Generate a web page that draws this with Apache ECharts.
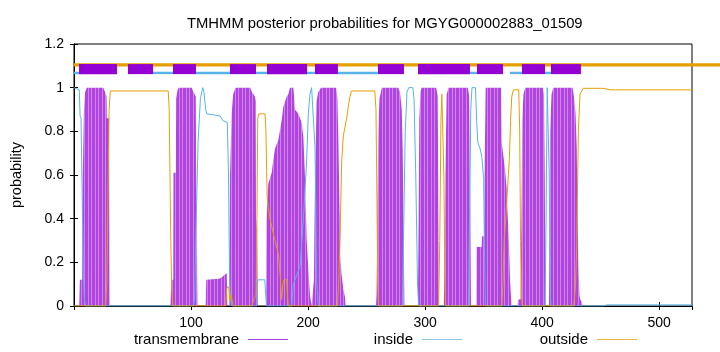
<!DOCTYPE html>
<html>
<head>
<meta charset="utf-8">
<script src="https://cdn.jsdelivr.net/npm/echarts@6/dist/echarts.min.js"></script>
<style>
  html, body { margin: 0; padding: 0; background: #fff; }
  #container { width: 720px; height: 352px; }
</style>
</head>
<body>
<div id="container"></div>
<script>
var xTicks = [100, 200, 300, 400, 500];

// posterior probability per position as [residue, p]
var transmembrane = [
  [0, 0], [4.5, 0], [5, 0.12], [7, 0.12], [7.5, 0.6], [8.5, 0.9], [9.5, 0.98], [11, 1], [25, 1], [26.5, 0.98], [27.8, 0.96], [28, 0.86], [30, 0.86], [30.5, 0],
  [82.5, 0], [83, 0.12], [84.8, 0.12], [85, 0.61], [87, 0.61], [87.3, 0.95], [88.5, 0.99], [89.5, 1], [100.5, 1], [102, 0.98], [104, 0.96], [104.5, 0.5], [105.5, 0],
  [112.5, 0], [113, 0.12], [124, 0.125], [126, 0.13], [128, 0.14], [130.5, 0.15], [131, 0],
  [132.8, 0], [133.3, 0.6], [134.7, 0.88], [136, 0.97], [138, 1], [150.5, 1], [152, 0.98], [154.5, 0.96], [155.2, 0.94], [155.5, 0.4], [156.5, 0.35], [157, 0],
  [164, 0], [164.5, 0.4], [166, 0.56], [168.9, 0.61], [170.3, 0.67], [171.7, 0.72], [174.6, 0.76], [177.4, 0.85], [178.8, 0.91], [181.7, 0.96], [183.1, 0.97], [184.5, 1], [187.4, 1], [188, 0.96], [188.8, 0.9], [191.6, 0.88], [194.5, 0.84], [196, 0.77], [197.4, 0.58], [198.8, 0.3], [200.2, 0.17], [201.6, 0.05], [203, 0],
  [204.5, 0], [205, 0.12], [205.9, 0.58], [207.3, 0.94], [208.7, 0.98], [211, 1], [224, 1], [225, 0.95], [225.8, 0.78], [226.7, 0.5], [227.2, 0.25], [228.5, 0.15], [230, 0.08], [231.5, 0.04], [232, 0],
  [258, 0], [258.5, 0.05], [259.2, 0.4], [260, 0.8], [261, 0.95], [263, 1], [277, 1], [278.5, 0.98], [280, 0.9], [280.8, 0.72], [281.7, 0.3], [282.3, 0],
  [293.8, 0], [294.3, 0.3], [295, 0.85], [296, 0.98], [297, 1], [309.5, 1], [310.7, 0.96], [311.3, 0.5], [311.8, 0],
  [316, 0], [316.5, 0.2], [317.2, 0.6], [318.4, 0.97], [320, 1], [336.5, 1], [337.7, 0.96], [338.5, 0.5], [339.2, 0],
  [343.8, 0], [344, 0.27], [348.3, 0.27], [348.5, 0.32], [350.5, 0.32], [351, 0.7], [351.7, 1], [364.8, 1], [365.4, 0.75], [367, 0.68], [368.2, 0.63], [369.5, 0.55], [370.2, 0.45], [371.5, 0.3], [372.5, 0.12], [373.5, 0.03], [374, 0],
  [379, 0], [379.5, 0.03], [381.5, 0.03], [382.3, 0.4], [383, 0.85], [384, 0.97], [385.5, 1], [400.5, 1], [401.5, 0.97], [402.2, 0.6], [402.8, 0],
  [405.8, 0], [406.2, 0.27], [406.7, 0.8], [408, 0.97], [409.5, 1], [426, 1], [427.1, 0.96], [428.5, 0.88], [429.5, 0.73], [430.3, 0.4], [430.9, 0.2], [431.8, 0.05], [432.5, 0.03], [433.7, 0.02], [434.3, 0],
  [528, 0]
];

var inside = [
  [0, 1], [4.5, 0.99], [5.2, 0.87], [6, 0.86], [7, 0.5], [8, 0.15], [9, 0.02], [10, 0],
  [102, 0], [103, 0.03], [104, 0.3], [106, 0.75], [108, 0.95], [110, 1], [111, 0.98], [112.5, 0.9], [113.5, 0.88], [120, 0.875], [125, 0.87], [127, 0.85], [131, 0.84], [132, 0.6], [133, 0.1], [134, 0.02], [135, 0],
  [156, 0], [156.5, 0.1], [157.2, 0.12], [163, 0.12], [163.8, 0.05], [164.5, 0],
  [186, 0], [187.4, 0.1], [190.2, 0.14], [193.1, 0.18], [196, 0.4], [198.8, 0.67], [200.2, 0.88], [201.6, 0.97], [203, 1], [204.5, 1], [205.9, 0.73], [207.3, 0.12], [208.7, 0],
  [280.5, 0], [281.5, 0.3], [283, 0.8], [284.5, 0.98], [286, 1], [289.5, 1], [290.5, 0.95], [292, 0.6], [293.5, 0.1], [294.5, 0],
  [337, 0], [338, 0.4], [339, 0.9], [340, 1], [343, 1], [344, 0.85], [345, 0.75], [347, 0.72], [348.5, 0.68], [350, 0.58], [350.8, 0.2], [351.5, 0],
  [402.5, 0], [403.5, 0.5], [404.3, 1], [405, 1], [406, 0.6], [407, 0.05], [407.5, 0],
  [452, 0], [455, 0.005], [528, 0.005]
];

var outside = [
  [0, 0], [27, 0], [28, 0.1], [29, 0.5], [30, 0.9], [31, 0.985], [80.5, 0.985], [81.3, 0.9], [82, 0.6], [82.7, 0.3], [83.5, 0.08], [84.5, 0],
  [129.5, 0], [130.5, 0.08], [131.5, 0.09], [132.3, 0.08], [133, 0.02], [134, 0.05], [135, 0.03], [136, 0],
  [152, 0], [153.5, 0.03], [155.5, 0.05], [156.3, 0.4], [157, 0.86], [158, 0.88], [163.2, 0.88], [164, 0.8], [165, 0.5], [166, 0.45], [167.4, 0.4], [171.7, 0.3], [174.6, 0.24], [176, 0.15], [177.4, 0.03], [178.5, 0.1], [179.5, 0.12], [181.7, 0.12], [182.5, 0.04], [183.1, 0],
  [225, 0], [226, 0.1], [227.2, 0.28], [228.7, 0.66], [230.1, 0.78], [233, 0.86], [234.5, 0.92], [235.8, 0.96], [237, 0.985], [257, 0.985], [258, 0.9], [258.8, 0.5], [259.5, 0.1], [260.3, 0],
  [311.5, 0], [312.5, 0.3], [313.5, 0.85], [314.3, 0.97], [315.2, 0.97], [316, 0.6], [316.8, 0.15], [317.5, 0],
  [365.5, 0], [366.5, 0.1], [367.5, 0.3], [368.5, 0.37], [370, 0.5], [372, 0.68], [373, 0.85], [374, 0.96], [375.5, 0.99], [380, 0.99], [380.8, 0.8], [381.5, 0.3], [382.3, 0.05], [383, 0],
  [427, 0], [428.5, 0.1], [429.5, 0.27], [430.9, 0.8], [432.3, 0.97], [435, 0.997], [452, 0.997], [458, 0.99], [528, 0.99]
];

// predicted topology bands at the top, [from, to] residue
var topTM = [[4.3, 36.7], [46.1, 67.5], [84.6, 104.2], [133.3, 155.5], [164.9, 199.1], [205.9, 225.5],
  [259.7, 281.9], [293.9, 338.3], [344.3, 366.5], [382.7, 402.4], [407.5, 433.1]];
var topInside = [[0, 6.8], [67.5, 84.6], [104.2, 133.3], [155.5, 164.9], [199.1, 205.9], [225.5, 259.7],
  [311, 315.3], [338.3, 344.3], [372.5, 382.7], [402.4, 407.5]];
var topOutside = [[0, 552]];

var FONT = "'Liberation Sans', Arial, sans-serif";

var dom = document.getElementById("container");
var myChart = echarts.init(dom, null, { renderer: "canvas" });

// impulse-like stripes for the transmembrane fill
var stripe = document.createElement("canvas");
stripe.width = 7;
stripe.height = 4;
var sctx = stripe.getContext("2d");
sctx.fillStyle = "#b144e0";
sctx.fillRect(0, 0, 7, 4);
sctx.fillStyle = "#cf84ef";
sctx.fillRect(0, 0, 1, 4);
sctx.fillRect(4, 0, 1, 4);

function band(segs, lo, hi, color) {
  return {
    type: "custom",
    clip: false,
    silent: true,
    encode: { x: [0, 1] },
    renderItem: function(params, api) {
      var a = api.coord([api.value(0), hi]);
      var b = api.coord([api.value(1), lo]);
      return {
        type: "rect",
        shape: { x: a[0], y: a[1], width: b[0] - a[0], height: b[1] - a[1] },
        style: { fill: color }
      };
    },
    data: segs
  };
}

function legendAt(name, color, right) {
  return {
    right: right,
    top: 332,
    padding: 0,
    align: "right",
    icon: "rect",
    itemWidth: 40,
    itemHeight: 1,
    selectedMode: false,
    textStyle: { fontFamily: FONT, fontSize: 15, color: "#000", padding: [0, 4, 0, 0] },
    data: [{ name: name, itemStyle: { color: color } }]
  };
}

var tickStyle = { show: true, inside: true, length: 4, lineStyle: { color: "#000" } };

var option = {
  animation: false,
  title: {
    text: "TMHMM posterior probabilities for MGYG000002883_01509",
    left: 182,
    top: 11,
    textStyle: { fontFamily: FONT, fontSize: 14.8, fontWeight: "normal", color: "#000" }
  },
  legend: [
    legendAt("transmembrane", "#a93ddc", 432),
    legendAt("inside", "#8cc8ec", 258),
    legendAt("outside", "#eab54a", 83)
  ],
  grid: { left: 74, right: 28, top: 44, bottom: 46, show: true, borderColor: "#000", borderWidth: 1 },
  xAxis: [
    {
      type: "value", min: 0, max: 528, interval: 100,
      axisLine: { show: true, onZero: false, lineStyle: { color: "#000" } },
      axisTick: tickStyle,
      axisLabel: {
        showMinLabel: false, showMaxLabel: false, margin: 10,
        fontFamily: FONT, fontSize: 14, color: "#000",
        formatter: function(v) { return xTicks.indexOf(v) >= 0 ? String(v) : ""; }
      },
      splitLine: { show: false }
    },
    {
      type: "value", position: "top", min: 0, max: 528, interval: 100,
      axisLine: { show: true, lineStyle: { color: "#000" } },
      axisTick: tickStyle, axisLabel: { show: false }, splitLine: { show: false }
    }
  ],
  yAxis: [
    {
      type: "value", min: 0, max: 1.2, interval: 0.2,
      name: "probability", nameLocation: "middle", nameGap: 50, nameRotate: 90,
      nameTextStyle: { fontFamily: FONT, fontSize: 14.5, color: "#000" },
      axisLine: { show: true, lineStyle: { color: "#000" } },
      axisTick: tickStyle,
      axisLabel: { margin: 10, fontFamily: FONT, fontSize: 14, color: "#000" },
      splitLine: { show: false }
    },
    {
      type: "value", position: "right", min: 0, max: 1.2, interval: 0.2,
      axisLine: { show: true, lineStyle: { color: "#000" } },
      axisTick: tickStyle, axisLabel: { show: false }, splitLine: { show: false }
    }
  ],
  series: [
    band(topOutside, 1.097, 1.112, "#e69f00"),
    band(topInside, 1.062, 1.073, "#56b4e9"),
    band(topTM, 1.062, 1.108, "#9400d3"),
    {
      name: "transmembrane",
      type: "line",
      symbol: "none",
      lineStyle: { width: 0, color: "#a93ddc" },
      itemStyle: { color: "#a93ddc" },
      areaStyle: { color: { image: stripe, repeat: "repeat" }, opacity: 1 },
      data: transmembrane
    },
    {
      name: "inside",
      type: "line",
      symbol: "none",
      lineStyle: { width: 1, color: "#56b4e9" },
      itemStyle: { color: "#56b4e9" },
      data: inside
    },
    {
      name: "outside",
      type: "line",
      symbol: "none",
      lineStyle: { width: 1, color: "#e69f00" },
      itemStyle: { color: "#e69f00" },
      data: outside
    }
  ]
};

if (option && typeof option === "object") {
  myChart.setOption(option, true);
}
</script>
</body>
</html>
